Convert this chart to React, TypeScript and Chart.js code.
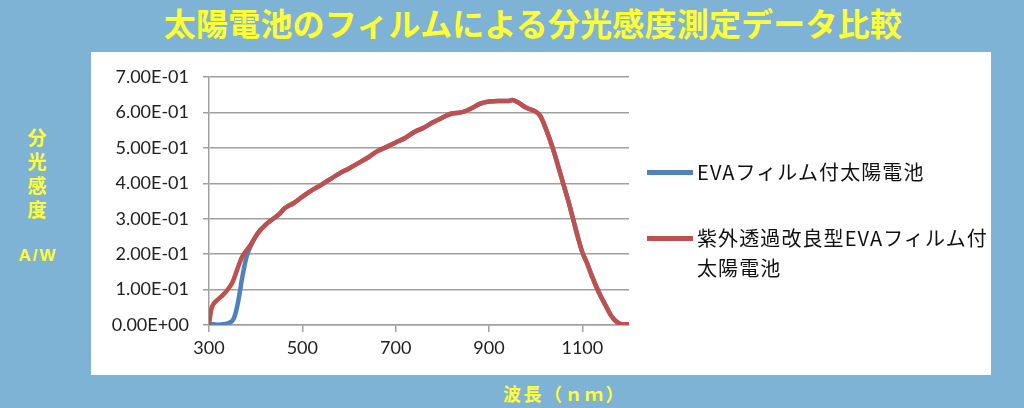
import React, { useEffect, useRef } from "react";
import { Chart, registerables } from "chart.js";

Chart.register(...registerables);

// wavelength (nm) / spectral response (A/W)
const redWavelengths = [
  300, 305, 310, 320, 330, 340, 350, 360, 370, 380, 390, 400, 410, 420, 430,
  440, 450, 460, 470, 480, 500, 520, 540, 560, 580, 600, 620, 640, 660, 680,
  700, 720, 740, 760, 780, 800, 820, 840, 860, 880, 900, 920, 940, 950, 960,
  980, 1000, 1010, 1020, 1030, 1040, 1050, 1060, 1070, 1080, 1090, 1100, 1110,
  1120, 1130, 1140, 1150, 1160, 1170, 1180, 1190, 1200,
];
const redValues = [
  0.0, 0.045, 0.06, 0.073, 0.085, 0.1, 0.12, 0.155, 0.19, 0.21, 0.228, 0.25,
  0.268, 0.281, 0.293, 0.302, 0.312, 0.327, 0.336, 0.343, 0.362, 0.38, 0.395,
  0.412, 0.428, 0.442, 0.457, 0.472, 0.49, 0.502, 0.515, 0.528, 0.545, 0.557,
  0.572, 0.585, 0.597, 0.6, 0.61, 0.624, 0.631, 0.632, 0.632, 0.635, 0.63,
  0.613, 0.602, 0.59, 0.56, 0.525, 0.485, 0.44, 0.395, 0.35, 0.3, 0.25, 0.205,
  0.175, 0.14, 0.108, 0.08, 0.055, 0.03, 0.013, 0.004, 0.002, 0.002,
];

const blueWavelengths = [
  300, 310, 320, 330, 340, 350, 355, 360, 365, 370, 375, 380, 390, 400, 410,
  420, 430, 440, 450, 460, 470, 480, 500, 520, 540, 560, 580, 600, 620, 640,
  660, 680, 700, 720, 740, 760, 780, 800, 820, 840, 860, 880, 900, 920, 940,
  950, 960, 980, 1000, 1010, 1020, 1030, 1040, 1050, 1060, 1070, 1080, 1090,
  1100, 1110, 1120, 1130, 1140, 1150, 1160, 1170, 1180, 1190, 1200,
];
const blueValues = [
  0.003, 0.002, 0.001, 0.002, 0.005, 0.012, 0.025, 0.05, 0.085, 0.125, 0.16,
  0.19, 0.225, 0.25, 0.268, 0.281, 0.293, 0.302, 0.312, 0.327, 0.336, 0.343,
  0.362, 0.38, 0.395, 0.412, 0.428, 0.442, 0.457, 0.472, 0.49, 0.502, 0.515,
  0.528, 0.545, 0.557, 0.572, 0.585, 0.597, 0.6, 0.61, 0.624, 0.631, 0.632,
  0.632, 0.635, 0.63, 0.613, 0.602, 0.59, 0.56, 0.525, 0.485, 0.44, 0.395,
  0.35, 0.3, 0.25, 0.205, 0.175, 0.14, 0.108, 0.08, 0.055, 0.03, 0.013, 0.004,
  0.002, 0.002,
];

const xTicks = [300, 500, 700, 900, 1100];
const yTicks = [0, 0.1, 0.2, 0.3, 0.4, 0.5, 0.6, 0.7];

const seriesLabels = ["EVAフィルム付太陽電池", "紫外透過改良型EVAフィルム付太陽電池"];
const seriesColors = ["#4F81BD", "#C0504D"];

const titleText = "太陽電池のフィルムによる分光感度測定データ比較";
const yTitleChars = ["分", "光", "感", "度"];
const yUnit = "A/W";
const xTitle = "波長（ｎｍ）";

const YELLOW = "#ffff33";
const GRID = "#a0a0a0";
const TICK_FONT = { family: "Lato", size: 18 };

const toSci = (v: number) => {
  const [m, e] = v.toExponential(2).split("e");
  const sign = e[0];
  return `${m}E${sign}${e.slice(1).padStart(2, "0")}`;
};

const SpectralChart = () => {
  const chartRef = useRef<HTMLCanvasElement>(null);

  useEffect(() => {
    if (!chartRef.current) return;
    const ctx = chartRef.current.getContext("2d");
    if (!ctx) return;

    const chart = new Chart(ctx, {
      type: "line",
      data: {
        datasets: [
          {
            label: seriesLabels[0],
            data: blueWavelengths.map((x, i) => ({ x, y: blueValues[i] })),
            borderColor: seriesColors[0],
            backgroundColor: seriesColors[0],
            borderWidth: 4.5,
            pointRadius: 0,
            cubicInterpolationMode: "monotone",
            order: 2,
          },
          {
            label: seriesLabels[1],
            data: redWavelengths.map((x, i) => ({ x, y: redValues[i] })),
            borderColor: seriesColors[1],
            backgroundColor: seriesColors[1],
            borderWidth: 4.5,
            pointRadius: 0,
            cubicInterpolationMode: "monotone",
            order: 1,
          },
        ],
      },
      options: {
        animation: false,
        responsive: true,
        maintainAspectRatio: false,
        layout: { padding: { left: 0, top: 25, right: 362, bottom: 0 } },
        plugins: {
          legend: { display: false },
          tooltip: { enabled: false },
        },
        scales: {
          x: {
            type: "linear",
            min: 300,
            max: 1200,
            afterBuildTicks: (axis: any) => {
              axis.ticks = xTicks.map((value) => ({ value }));
            },
            afterFit: (axis: any) => {
              axis.height = 50;
            },
            grid: {
              drawOnChartArea: false,
              drawTicks: true,
              tickLength: 7,
              color: GRID,
              lineWidth: 1.5,
            },
            border: { color: GRID, width: 1.5 },
            ticks: {
              font: TICK_FONT,
              color: "#222",
              padding: 5,
              maxRotation: 0,
              callback: (v: any) => String(v),
            },
          },
          y: {
            min: 0,
            max: 0.7,
            afterBuildTicks: (axis: any) => {
              axis.ticks = yTicks.map((value) => ({ value }));
            },
            afterFit: (axis: any) => {
              axis.width = 118;
            },
            grid: {
              drawOnChartArea: true,
              drawTicks: true,
              tickLength: 6,
              color: GRID,
              lineWidth: 1.5,
            },
            border: { color: GRID, width: 1.5 },
            ticks: {
              font: TICK_FONT,
              color: "#222",
              padding: 14,
              callback: (v: any) => toSci(Number(v)),
            },
          },
        },
      },
    });

    return () => {
      chart.destroy();
    };
  }, []);

  return (
    <div style={{ position: "relative", width: 900, height: 323 }}>
      <canvas ref={chartRef}></canvas>
    </div>
  );
};

const App = () => {
  const cjk = '"Noto Sans CJK JP", "Noto Sans", sans-serif';
  return (
    <div
      style={{
        position: "fixed",
        left: 0,
        top: 0,
        width: 1024,
        height: 408,
        background: "#7fb3d5",
        overflow: "hidden",
        fontFamily: cjk,
      }}
    >
      <div
        style={{
          position: "absolute",
          left: 21,
          top: 0,
          width: 1024,
          textAlign: "center",
          color: YELLOW,
          fontWeight: 700,
          fontSize: 32,
          letterSpacing: 0.2,
          lineHeight: "44px",
        }}
      >
        {titleText}
      </div>

      <div
        style={{
          position: "absolute",
          left: 91,
          top: 52,
          width: 900,
          height: 323,
          background: "#fff",
        }}
      >
        <SpectralChart />
      </div>

      {/* legend */}
      <div style={{ position: "absolute", left: 647, top: 157, width: 370 }}>
        {seriesLabels.map((label, i) => (
          <div
            key={label}
            style={{ display: "flex", alignItems: "flex-start", marginBottom: 36 }}
          >
            <div
              style={{
                width: 46,
                height: 4.5,
                background: seriesColors[i],
                marginTop: 13,
                flex: "none",
              }}
            />
            <div
              style={{
                width: 300,
                flex: "none",
                marginLeft: 4,
                fontSize: 20,
                letterSpacing: 1.1,
                lineHeight: "30px",
                color: "#111",
              }}
            >
              {label}
            </div>
          </div>
        ))}
      </div>

      {/* y axis title */}
      <div
        style={{
          position: "absolute",
          left: 26,
          top: 125,
          width: 22,
          textAlign: "center",
          color: YELLOW,
          fontWeight: 700,
          fontSize: 19,
          lineHeight: "24px",
        }}
      >
        {yTitleChars.map((c) => (
          <div key={c}>{c}</div>
        ))}
      </div>
      <div
        style={{
          position: "absolute",
          left: 10,
          top: 246,
          width: 56,
          textAlign: "center",
          color: YELLOW,
          fontWeight: 700,
          fontSize: 17,
          letterSpacing: 2,
          fontFamily: '"Liberation Sans", sans-serif',
        }}
      >
        {yUnit}
      </div>

      {/* x axis title */}
      <div
        style={{
          position: "absolute",
          left: 503,
          top: 380,
          color: YELLOW,
          fontWeight: 700,
          fontSize: 18,
          letterSpacing: 2.5,
          lineHeight: "26px",
        }}
      >
        {xTitle}
      </div>
    </div>
  );
};

export default App;
